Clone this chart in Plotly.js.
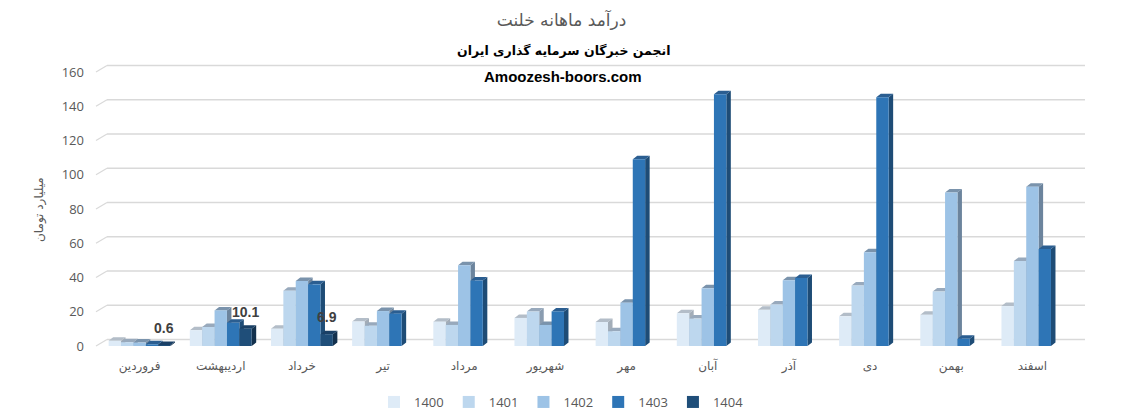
<!DOCTYPE html>
<html><head><meta charset="utf-8">
<script src="https://cdn.plot.ly/plotly-3.0.1.min.js"></script>
<style>html,body{margin:0;padding:0;background:#fff;}#chart{width:1123px;height:417px;}</style>
</head><body><div id="chart"></div>
<script>
// ---------------- data ----------------
const months = ['فروردین','اردیبهشت','خرداد','تیر','مرداد','شهریور','مهر','آبان','آذر','دی','بهمن','اسفند'];
const seriesNames = ['1400','1401','1402','1403','1404'];
const v1400 = [3.0, 9.2, 10.1, 14.3, 14.2, 16.4, 14.0, 19.1, 21.1, 17.3, 18.2, 23.3];
const v1401 = [2.2, 11.1, 32.3, 11.8, 12.3, 20.1, 8.6, 16.0, 24.2, 35.3, 31.8, 49.6];
const v1402 = [2.0, 20.8, 38.0, 20.4, 47.1, 12.3, 25.3, 33.7, 38.4, 54.8, 89.7, 93.0];
const v1403 = [1.0, 13.6, 36.0, 18.9, 38.2, 20.2, 109.0, 147.0, 39.7, 145.3, 4.2, 56.6];
const v1404 = [0.6, 10.1, 6.9, null, null, null, null, null, null, null, null, null];
const yTicks = [0, 20, 40, 60, 80, 100, 120, 140, 160];
const chartTitle = 'درآمد ماهانه خلنت';
const subTitle1 = 'انجمن خبرگان سرمایه گذاری ایران';
const subTitle2 = 'Amoozesh-boors.com';
const yTitle = 'میلیارد تومان';

// ---------------- styling / geometry ----------------
const allSeries = [v1400, v1401, v1402, v1403, v1404];
const frontColors = ['#DEEBF7', '#BDD7EE', '#9DC3E6', '#2E75B6', '#1F4E79'];
const sideColors  = ['#A3ADB8', '#8A9CB0', '#6C849D', '#1E4C76', '#13314E'];
const topColors   = ['#B3BDC8', '#98A9BC', '#7A93AC', '#2B5E91', '#1A4066'];

const W = 1123, H = 417;
const L = 99, R = 50, T = 72, B = 71;
const plotW = W - L - R, plotH = H - T - B;
const yMax = 160;
const catPx = plotW / months.length;
const unitPx = plotH / yMax;
const barW = 0.1525;
const groupStart = -2.5 * barW;
const dx = 4.5 / catPx;     // depth offset in x (data units)
const dy = 3.5 / unitPx;    // depth offset in y (data units)
const gridShiftPx = 6.5;    // back-wall gridline shift
const baseY = H - B;        // pixel row of value 0

const xIdx = months.map((m, i) => i);

const sideTraces = [], topTraces = [], barTraces = [];
allSeries.forEach((vals, s) => {
  const sx = [], sy = [], tx = [], ty = [];
  vals.forEach((v, i) => {
    if (v === null) return;
    const xl = i + groupStart + s * barW;
    const xr = xl + barW;
    sx.push(xr, xr, xr + dx, xr + dx, xr, null);
    sy.push(0, v, v + dy, dy, 0, null);
    tx.push(xl, xr, xr + dx, xl + dx, xl, null);
    ty.push(v, v, v + dy, v + dy, v, null);
  });
  sideTraces.push({type: 'scatter', mode: 'lines', x: sx, y: sy, fill: 'toself',
    fillcolor: sideColors[s], line: {width: 0, color: sideColors[s]}, hoverinfo: 'skip',
    showlegend: false, xaxis: 'x', yaxis: 'y'});
  topTraces.push({type: 'scatter', mode: 'lines', x: tx, y: ty, fill: 'toself',
    fillcolor: topColors[s], line: {width: 0, color: topColors[s]}, hoverinfo: 'skip',
    showlegend: false, xaxis: 'x', yaxis: 'y'});
  barTraces.push({type: 'bar', name: seriesNames[s], x: xIdx, y: vals,
    offset: groupStart + s * barW, width: barW,
    marker: {color: frontColors[s], line: {width: 0}},
    xaxis: 'x2', yaxis: 'y2'});
});

// gridlines on the back wall + small diagonals
const shapes = [];
const gx0 = (107 - L) / plotW, gx1 = (1085 - L) / plotW, gxd = (96 - L) / plotW;
yTicks.forEach(v => {
  const yf = v / yMax;
  const yb = yf + gridShiftPx / plotH;
  shapes.push({type: 'line', xref: 'paper', yref: 'paper', x0: gx0, x1: gx1, y0: yb, y1: yb,
    line: {color: '#D9D9D9', width: 1.4}, layer: 'below'});
  shapes.push({type: 'line', xref: 'paper', yref: 'paper', x0: gxd, x1: gx0, y0: yf, y1: yb,
    line: {color: '#D9D9D9', width: 1.2}, layer: 'below'});
});

const annotations = [];
v1404.forEach((v, i) => {
  if (v === null) return;
  annotations.push({xref: 'x', yref: 'y', x: i + groupStart + 4 * barW + barW / 2, y: v,
    yshift: 17, text: v.toFixed(1), showarrow: false, xanchor: 'center', yanchor: 'middle',
    font: {family: 'Liberation Sans, Arial, sans-serif', size: 14, color: '#404040', weight: 'bold'}});
});
const px2x = px => (px - L) / plotW;
const py2y = py => (baseY - py) / plotH;
annotations.push({xref: 'paper', yref: 'paper', x: px2x(563), y: py2y(50),
  xanchor: 'center', yanchor: 'middle',
  text: '<b>' + subTitle1 + '</b>', showarrow: false,
  font: {family: 'DejaVu Sans, sans-serif', size: 12.5, color: '#000000'}});
annotations.push({xref: 'paper', yref: 'paper', x: px2x(563), y: py2y(76),
  xanchor: 'center', yanchor: 'middle',
  text: '<b>' + subTitle2 + '</b>', showarrow: false,
  font: {family: 'Liberation Sans, Arial, sans-serif', size: 15, color: '#000000'}});
annotations.push({xref: 'paper', yref: 'paper', x: px2x(40), y: py2y(210),
  xanchor: 'center', yanchor: 'middle',
  text: yTitle, textangle: -90, showarrow: false,
  font: {family: 'DejaVu Sans, sans-serif', size: 12, color: '#595959'}});

const layout = {
  width: W, height: H,
  margin: {l: L, r: R, t: T, b: B},
  paper_bgcolor: '#ffffff', plot_bgcolor: 'rgba(0,0,0,0)',
  title: {text: chartTitle, x: 0.5, xref: 'container', xanchor: 'center',
    y: 1 - 20 / H, yref: 'container', yanchor: 'middle',
    font: {family: 'DejaVu Sans, sans-serif', size: 17, color: '#595959'}},
  showlegend: true,
  legend: {orientation: 'h', x: 0.5, xref: 'container', xanchor: 'center',
    y: 1 - 402 / H, yref: 'container', yanchor: 'middle',
    font: {family: 'Open Sans, sans-serif', size: 13, color: '#595959'}, traceorder: 'normal'},
  xaxis: {range: [-0.5, 11.5], tickvals: xIdx, ticktext: months, showgrid: false,
    zeroline: false, showline: false, ticks: '', ticklabelstandoff: 11,
    tickfont: {family: 'DejaVu Sans, sans-serif', size: 12, color: '#595959'}, fixedrange: true},
  yaxis: {range: [0, yMax], tickvals: yTicks, showgrid: false, zeroline: false, showline: false,
    ticks: '', ticklabelstandoff: 14,
    tickfont: {family: 'Open Sans, sans-serif', size: 13, color: '#595959'}, fixedrange: true},
  xaxis2: {range: [-0.5, 11.5], overlaying: 'x', anchor: 'y2', visible: false, fixedrange: true},
  yaxis2: {range: [0, yMax], overlaying: 'y', anchor: 'x2', visible: false, fixedrange: true},
  barmode: 'overlay',
  shapes: shapes,
  annotations: annotations
};

Plotly.newPlot('chart', sideTraces.concat(topTraces, barTraces), layout,
  {displayModeBar: false, staticPlot: true});
</script>
</body></html>
